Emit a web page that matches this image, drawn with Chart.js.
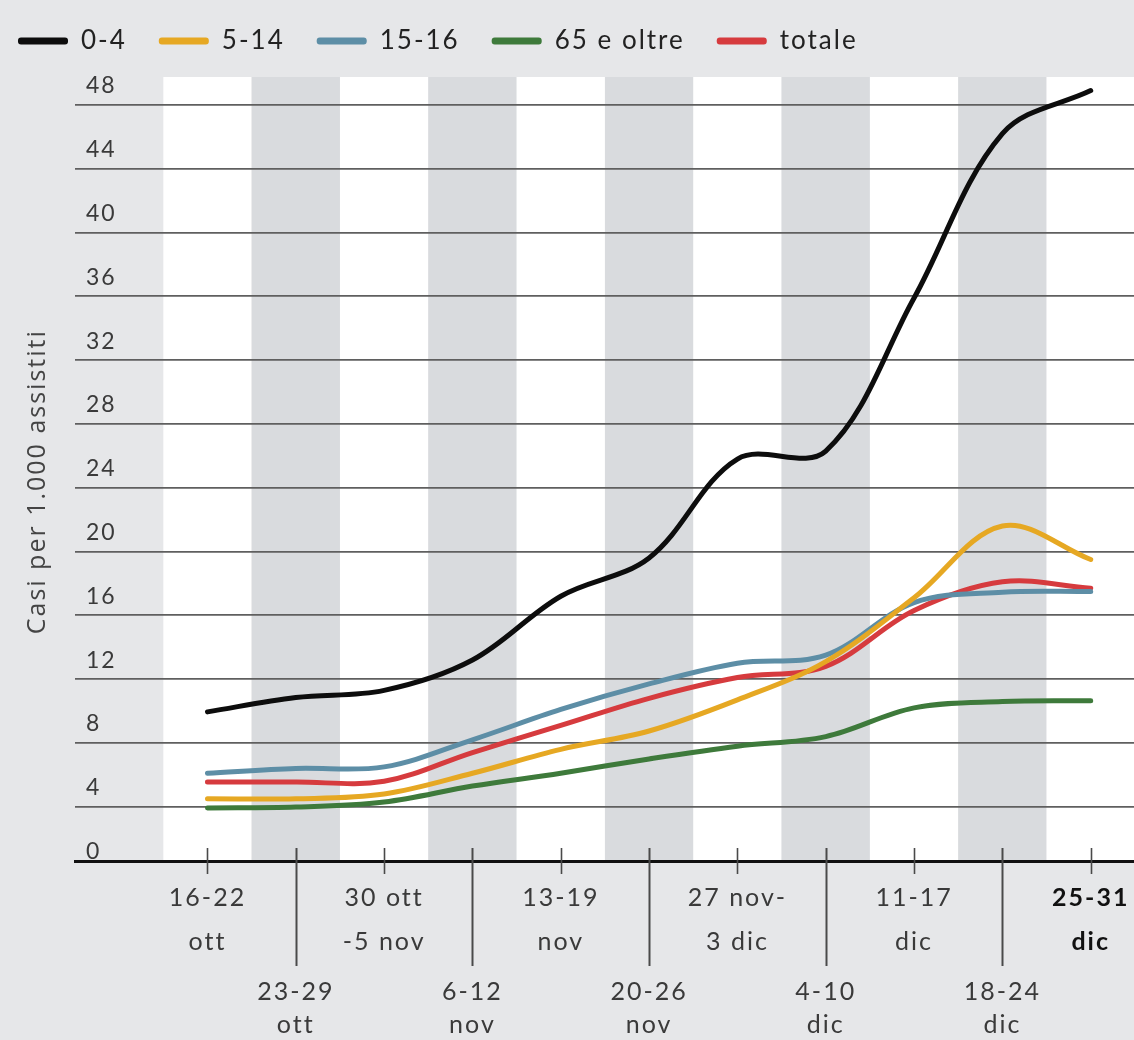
<!DOCTYPE html>
<html lang="it">
<head>
<meta charset="utf-8">
<title>Casi per 1.000 assistiti per fascia d'età</title>
<script src="https://cdn.jsdelivr.net/npm/chart.js@4/dist/chart.umd.min.js"></script>
<style>
  html, body { margin: 0; padding: 0; background: #e6e7e9; overflow: hidden; }
  #wrap { width: 1134px; height: 1040px; position: relative; }
  canvas { display: block; }
</style>
</head>
<body>
<div id="wrap"><canvas id="chart" width="1134" height="1040"></canvas></div>
<script>
// Settimane (categorie dell'asse x)
const weeks = [
  ['16-22', 'ott'],
  ['23-29', 'ott'],
  ['30 ott', '-5 nov'],
  ['6-12', 'nov'],
  ['13-19', 'nov'],
  ['20-26', 'nov'],
  ['27 nov-', '3 dic'],
  ['4-10', 'dic'],
  ['11-17', 'dic'],
  ['18-24', 'dic'],
  ['25-31', 'dic']
];

// Casi per 1.000 assistiti, per fascia d'età
const age0to4   = [9.95, 10.85, 11.3, 13.2, 17.2, 19.6, 25.8, 26.3, 35.9, 46.2, 48.9];
const age5to14  = [4.5, 4.5, 4.8, 6.1, 7.6, 8.75, 10.7, 13.1, 17.1, 21.6, 19.5];
const age15to16 = [6.1, 6.4, 6.5, 8.2, 10.1, 11.7, 13.0, 13.5, 16.8, 17.45, 17.5];
const age65plus = [3.93, 3.98, 4.3, 5.3, 6.1, 7.0, 7.8, 8.4, 10.2, 10.6, 10.65];
const total     = [5.55, 5.55, 5.6, 7.4, 9.1, 10.8, 12.1, 12.8, 16.3, 18.1, 17.7];

const seriesNames = ['0-4', '5-14', '15-16', '65 e oltre', 'totale'];

// Etichette dell'asse y
const yTicks = [0, 4, 8, 12, 16, 20, 24, 28, 32, 36, 40, 44, 48];

const colors = {
  black: '#0d0d0d',
  yellow: '#e6a823',
  blue: '#5d8ea6',
  green: '#3e7a3b',
  red: '#d63b3e'
};

const toPoints = arr => arr.map((v, i) => ({ x: i, y: v }));

function lineSet(label, values, color) {
  return {
    label,
    data: toPoints(values),
    borderColor: color,
    backgroundColor: color,
    borderWidth: 5,
    pointRadius: 0,
    pointHoverRadius: 0,
    tension: 0.35,
    borderCapStyle: 'round',
    borderJoinStyle: 'round',
    fill: false
  };
}

// Spaziatura tra le lettere per tutti i testi del grafico
const textSpacing = {
  id: 'textSpacing',
  beforeUpdate(chart) { chart.ctx.letterSpacing = '2px'; },
  beforeDraw(chart) { chart.ctx.letterSpacing = '2px'; }
};

// Altezza fissa della legenda in alto
const legendHeight = {
  id: 'legendHeight',
  beforeInit(chart) {
    const lg = chart.legend;
    if (!lg) return;
    const fit = lg.fit;
    lg.fit = function () {
      fit.call(this);
      this.height = 81;
    };
  }
};

// Fasce verticali alternate bianche/grigie, una per settimana
const weekBands = {
  id: 'weekBands',
  beforeDraw(chart) {
    const { ctx, chartArea: a, scales: { x } } = chart;
    ctx.save();
    for (let i = 0; i < weeks.length; i++) {
      const x0 = Math.max(a.left, x.getPixelForValue(i - 0.5));
      const x1 = Math.min(a.right, x.getPixelForValue(i + 0.5));
      ctx.fillStyle = i % 2 === 0 ? '#ffffff' : '#d9dbde';
      ctx.fillRect(x0, a.top, x1 - x0, a.bottom - a.top);
    }
    ctx.restore();
  }
};

// Tacche dell'asse x: corte per le etichette alte, lunghe per quelle basse
const weekTicks = {
  id: 'weekTicks',
  afterDraw(chart) {
    const { ctx, chartArea: a, scales: { x } } = chart;
    ctx.save();
    ctx.strokeStyle = '#4a4a4a';
    for (let i = 0; i < weeks.length; i++) {
      const px = Math.round(x.getPixelForValue(i)) + 0.5;
      const long = i % 2 === 1;
      ctx.lineWidth = long ? 2 : 1.6;
      ctx.beginPath();
      ctx.moveTo(px, a.bottom - 13);
      ctx.lineTo(px, a.bottom + (long ? 105 : 13));
      ctx.stroke();
    }
    ctx.restore();
  }
};

const chart = new Chart(document.getElementById('chart'), {
  type: 'line',
  data: {
    datasets: [
      lineSet(seriesNames[0], age0to4, colors.black),
      lineSet(seriesNames[1], age5to14, colors.yellow),
      lineSet(seriesNames[2], age15to16, colors.blue),
      lineSet(seriesNames[3], age65plus, colors.green),
      lineSet(seriesNames[4], total, colors.red)
    ]
  },
  plugins: [textSpacing, legendHeight, weekBands, weekTicks],
  options: {
    responsive: false,
    animation: false,
    events: [],
    layout: { autoPadding: false, padding: { left: -14, right: 0, top: -4, bottom: -16 } },
    plugins: {
      tooltip: { enabled: false },
      legend: {
        display: true,
        position: 'top',
        align: 'start',
        labels: {
          boxWidth: 50,
          boxHeight: 7,
          padding: 32,
          color: '#222',
          font: { family: 'Lato', size: 26 },
          generateLabels(c) {
            return Chart.defaults.plugins.legend.labels.generateLabels(c).map(it => {
              it.fillStyle = it.strokeStyle;
              it.lineWidth = 0;
              it.borderRadius = 3;
              return it;
            });
          },
          useBorderRadius: true,
          borderRadius: 3
        }
      }
    },
    scales: {
      x: {
        type: 'linear',
        min: -1.5,
        max: 10.49,
        afterBuildTicks(axis) {
          axis.ticks = weeks.map((w, i) => ({ value: i }));
        },
        afterFit(axis) {
          axis.paddingLeft = 0;
          axis.paddingRight = 0;
        },
        grid: { display: true, drawOnChartArea: false, drawTicks: false },
        border: { display: true, color: '#111', width: 3 },
        ticks: {
          autoSkip: false,
          maxRotation: 0,
          minRotation: 0,
          padding: 15,
          color(ctx) { return ctx.index === weeks.length - 1 ? '#111' : '#3a3a3a'; },
          font(ctx) {
            const odd = ctx.index % 2 === 1;
            return {
              family: 'Lato',
              size: 25,
              weight: ctx.index === weeks.length - 1 ? 'bold' : 'normal',
              lineHeight: odd ? '33px' : '44px'
            };
          },
          callback(value) {
            const w = weeks[value];
            if (!w) return '';
            return value % 2 === 1 ? ['', '', '', w[0], w[1]] : [w[0], w[1]];
          }
        }
      },
      y: {
        type: 'linear',
        min: 0.6,
        max: 49.75,
        afterBuildTicks(axis) {
          axis.ticks = yTicks.map(v => ({ value: v }));
        },
        border: { display: false },
        grid: {
          color(ctx) { return ctx.tick && ctx.tick.value === 0 ? 'rgba(0,0,0,0)' : '#5f5f5f'; },
          lineWidth: 1.8,
          drawTicks: false
        },
        ticks: {
          mirror: true,
          padding: 11,
          labelOffset: -19,
          color: '#3a3a3a',
          font: { family: 'Lato', size: 23 },
          callback(value) { return String(value); }
        },
        title: {
          display: true,
          text: 'Casi per 1.000 assistiti\u00a0\u00a0\u00a0',
          color: '#444',
          font: { family: 'Open Sans', size: 25 },
          padding: { top: 37, bottom: 0 }
        }
      }
    }
  }
});
</script>
</body>
</html>
